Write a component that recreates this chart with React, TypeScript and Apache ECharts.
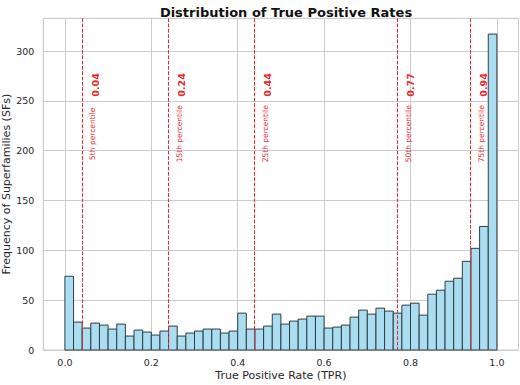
import React, { useEffect, useRef } from "react";
import * as echarts from "echarts";

// Histogram counts, 50 bins of width 0.02 from 0.0 to 1.0
const binCounts: number[] = [
  74, 28, 22, 27, 25, 21, 26, 14, 20, 18,
  15, 19, 24, 14, 17, 19, 21, 21, 17, 19,
  37, 21, 21, 24, 36, 26, 29, 31, 34, 34,
  22, 23, 25, 33, 40, 36, 42, 39, 37, 45,
  47, 35, 56, 60, 69, 72, 89, 102, 124, 317,
];
const binStart = 0;
const binWidth = 0.02;

const percentileValues: number[] = [0.04, 0.24, 0.44, 0.77, 0.94];
const percentileNames: string[] = [
  "5th percentile",
  "15th percentile",
  "25th percentile",
  "50th percentile",
  "75th percentile",
];

const yTickInterval = 50;

const FONT = "DejaVu Sans";
const TEXT = "#262626";
const GRID = "#cccccc";
const RED = "#e8262b";

export default function App() {
  const ref = useRef<HTMLDivElement>(null);
  useEffect(() => {
    document.body.style.margin = "0";
    if (!ref.current) return;
    const chart = echarts.init(ref.current, null, { renderer: "svg" });

    const histData = binCounts.map((c, i) => [
      binStart + i * binWidth,
      binStart + (i + 1) * binWidth,
      c,
    ]);
    const maxCount = Math.max(...binCounts);
    const pctData = percentileValues.map((v, i) => [v, percentileNames[i]]);

    chart.setOption({
      animation: false,
      backgroundColor: "#ffffff",
      title: {
        text: "Distribution of True Positive Rates",
        left: 281,
        top: 1,
        textAlign: "center",
        textStyle: { fontFamily: FONT, fontSize: 13, fontWeight: "bold", color: "#111111" },
      },
      grid: {
        left: 43.3,
        right: 1.5,
        top: 18.3,
        bottom: 35,
        containLabel: false,
        outerBoundsMode: "none",
        show: true,
        borderColor: GRID,
        borderWidth: 1,
        backgroundColor: "transparent",
      },
      xAxis: {
        type: "value",
        min: -0.05,
        max: 1.05,
        splitNumber: 5,
        name: "True Positive Rate (TPR)",
        nameLocation: "middle",
        nameGap: 20,
        nameMoveOverlap: false,
        nameTextStyle: { fontFamily: FONT, fontSize: 11, color: TEXT },
        axisLine: { show: false },
        axisTick: { show: false },
        axisLabel: {
          fontFamily: FONT,
          fontSize: 9.5,
          color: TEXT,
          margin: 7,
          showMinLabel: false,
          showMaxLabel: false,
          formatter: (v: number) => v.toFixed(1),
        },
        splitLine: { show: true, lineStyle: { color: GRID, width: 1 } },
      },
      yAxis: {
        type: "value",
        min: 0,
        max: maxCount * 1.05,
        interval: yTickInterval,
        name: "Frequency of Superfamilies (SFs)",
        nameLocation: "middle",
        nameGap: 31,
        nameMoveOverlap: false,
        nameTextStyle: { fontFamily: FONT, fontSize: 11, color: TEXT },
        axisLine: { show: false },
        axisTick: { show: false },
        axisLabel: {
          fontFamily: FONT,
          fontSize: 9.5,
          color: TEXT,
          margin: 9,
          showMaxLabel: false,
        },
        splitLine: { show: true, lineStyle: { color: GRID, width: 1 } },
      },
      series: [
        {
          type: "custom",
          name: "hist",
          data: histData,
          encode: { x: [0, 1], y: 2 },
          renderItem: (params: any, api: any) => {
            const p0 = api.coord([api.value(0), api.value(2)]);
            const p1 = api.coord([api.value(1), 0]);
            return {
              type: "rect",
              shape: { x: p0[0], y: p0[1], width: p1[0] - p0[0], height: p1[1] - p0[1] },
              style: { fill: "#abddf1", stroke: "#2f3d42", lineWidth: 1 },
            };
          },
          z: 2,
        },
        {
          type: "custom",
          name: "percentiles",
          data: pctData,
          encode: { x: 0 },
          renderItem: (params: any, api: any) => {
            const v = api.value(0);
            const cs = params.coordSys;
            const rawX = api.coord([v, 0])[0];
            const x = Math.round(rawX - 0.5) + 0.5;
            const nameY = api.coord([v, 217])[1];
            const valY = api.coord([v, 266])[1];
            const idx = params.dataIndex;
            return {
              type: "group",
              children: [
                {
                  type: "line",
                  shape: { x1: x, y1: cs.y, x2: x, y2: cs.y + cs.height },
                  style: { stroke: RED, lineWidth: 1, lineDash: [3.7, 1.6] },
                },
                {
                  type: "text",
                  x: rawX + 10.8,
                  y: nameY,
                  rotation: Math.PI / 2,
                  style: {
                    text: percentileNames[idx],
                    fill: RED,
                    font: `7.5px "${FONT}"`,
                    align: "center",
                    verticalAlign: "middle",
                  },
                },
                {
                  type: "text",
                  x: rawX + 13,
                  y: valY,
                  rotation: Math.PI / 2,
                  style: {
                    text: v.toFixed(2),
                    fill: RED,
                    font: `bold 9.5px "${FONT}"`,
                    align: "center",
                    verticalAlign: "middle",
                  },
                },
              ],
            };
          },
          z: 3,
        },
      ],
    });

    return () => chart.dispose();
  }, []);

  return <div ref={ref} style={{ width: 520, height: 385 }} />;
}
